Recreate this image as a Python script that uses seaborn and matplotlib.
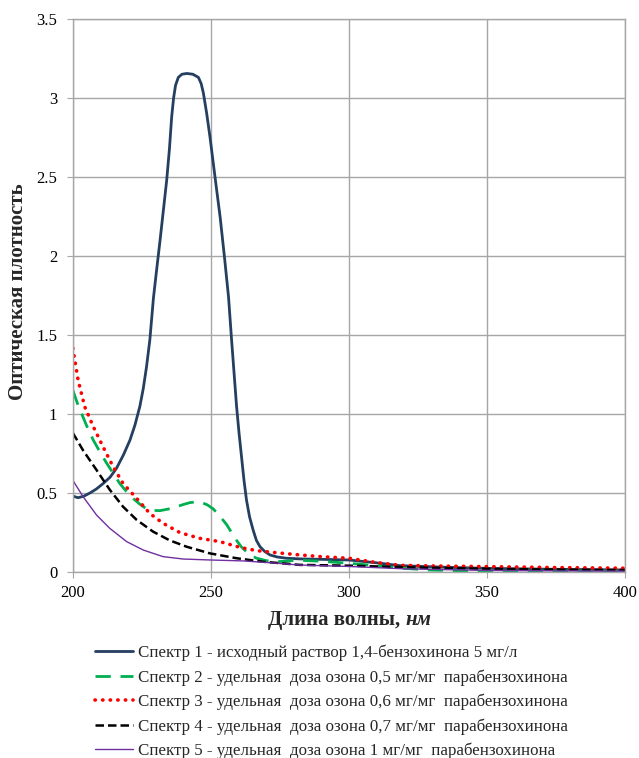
import matplotlib
matplotlib.use('Agg')
import matplotlib.pyplot as plt
import pandas as pd
import seaborn as sns
from matplotlib.ticker import FuncFormatter

# Spectra (wavelength, nm -> optical density)
nm1 = [200, 201.9, 204, 206.2, 208.5, 211, 213.5, 215.8, 218.3, 220.7, 222.5, 224.3, 225.5,
       226.7, 227.9, 229.2, 230.4, 231.6, 232.8, 234, 235, 235.8, 236.5, 237.2, 238.2,
       239.5, 241.3, 243.5, 245.5, 246.5, 247.3, 248.5, 249.7, 251.5, 253.4, 255, 256.4,
       257.5, 258.4, 259.3, 260.2, 261.1, 262, 262.9, 264, 265.3, 266.5, 267.8, 269.5,
       271.4, 274, 277.4, 282, 290, 300, 310, 318.5, 335, 350, 375, 400]
od1 = [0.48, 0.47, 0.48, 0.50, 0.525, 0.56, 0.60, 0.656, 0.74, 0.835, 0.93, 1.05, 1.16,
       1.30, 1.47, 1.735, 1.92, 2.10, 2.29, 2.48, 2.68, 2.88, 3.0, 3.08, 3.13,
       3.15, 3.155, 3.15, 3.13, 3.09, 3.03, 2.90, 2.75, 2.50, 2.24, 1.98, 1.74,
       1.47, 1.26, 1.05, 0.88, 0.73, 0.58, 0.456, 0.35, 0.266, 0.20, 0.16, 0.13,
       0.108, 0.095, 0.087, 0.083, 0.08, 0.076, 0.058, 0.04, 0.03, 0.023, 0.017, 0.013]

nm2 = [200, 201.8, 203.7, 205.5, 207.4, 209.8, 212.2, 214.6, 217, 219.4, 221.8, 224.2,
       226.7, 229, 231.5, 234.5, 237.6, 240, 242.4, 244.5, 246.6, 248.7, 250.8, 253.2,
       255.7, 257.5, 259.3, 261, 262.9, 264.7, 266.6, 270, 273.8, 277, 281, 290, 300,
       310, 318, 330, 350, 375, 400]
od2 = [1.15, 1.06, 0.98, 0.905, 0.835, 0.76, 0.69, 0.625, 0.56, 0.51, 0.466, 0.43,
       0.40, 0.39, 0.388, 0.398, 0.413, 0.427, 0.439, 0.443, 0.44, 0.425, 0.40, 0.355,
       0.30, 0.25, 0.20, 0.16, 0.128, 0.103, 0.087, 0.072, 0.065, 0.068, 0.075, 0.068, 0.055,
       0.04, 0.025, 0.012, 0.005, 0.005, 0.005]

nm3 = [200, 201.9, 204.3, 207.4, 211, 214.6, 218.2, 223.1, 227.9, 232.7, 238.8, 246,
       253.3, 260.5, 266.6, 273.8, 282.2, 290, 300, 310, 318.5, 335, 350, 375, 400]
od3 = [1.416, 1.215, 1.046, 0.92, 0.79, 0.666, 0.56, 0.466, 0.37, 0.308, 0.249, 0.213,
       0.192, 0.156, 0.135, 0.122, 0.108, 0.097, 0.087, 0.06, 0.042, 0.037, 0.034, 0.028, 0.024]

nm4 = [200, 203.7, 208.6, 213.4, 218.2, 223.1, 229.1, 235.1, 241.2, 249.6, 259.3, 268.9,
       282.2, 300, 325, 350, 375, 400]
od4 = [0.88, 0.77, 0.645, 0.52, 0.413, 0.33, 0.255, 0.20, 0.16, 0.118, 0.087, 0.065,
       0.045, 0.04, 0.028, 0.02, 0.015, 0.012]

nm5 = [200, 203.7, 208.6, 213.4, 219.5, 225.5, 232.7, 240, 249.6, 261.7, 272, 282.2,
       300, 320, 350, 375, 400]
od5 = [0.58, 0.477, 0.36, 0.276, 0.192, 0.139, 0.097, 0.082, 0.076, 0.07, 0.058, 0.044,
       0.035, 0.02, 0.01, 0.007, 0.005]

labels = [
    'Спектр 1 - исходный раствор 1,4-бензохинона 5 мг/л',
    'Спектр 2 - удельная  доза озона 0,5 мг/мг  парабензохинона',
    'Спектр 3 - удельная  доза озона 0,6 мг/мг  парабензохинона',
    'Спектр 4 - удельная  доза озона 0,7 мг/мг  парабензохинона',
    'Спектр 5 - удельная  доза озона 1 мг/мг  парабензохинона',
]

sns.set_style('whitegrid')
plt.rcParams['font.family'] = ['Liberation Serif', 'DejaVu Serif']

fig = plt.figure(figsize=(6.39, 7.58), dpi=100)
ax = fig.add_axes([0.114, 0.2454, 0.864, 0.7296])

styles = [
    dict(color='#243F60', lw=2.0, ls='-', cap='butt'),
    dict(color='#00B050', lw=2.0, ls=(0, (5.5, 3.5)), cap='butt'),
    dict(color='#FF0000', lw=2.6, ls=(0, (0.1, 2.0)), cap='round'),
    dict(color='#000000', lw=1.8, ls=(0, (3.4, 1.6)), cap='butt'),
    dict(color='#7030A0', lw=1.0, ls='-', cap='butt'),
]
series = [(nm1, od1), (nm2, od2), (nm3, od3), (nm4, od4), (nm5, od5)]

for (x, y), lab, st in zip(series, labels, styles):
    df = pd.DataFrame({'nm': x, 'od': y})
    sns.lineplot(data=df, x='nm', y='od', ax=ax, label=lab,
                 color=st['color'], lw=st['lw'])
    l = ax.get_lines()[-1]
    l.set_linestyle(st['ls'])
    l.set_dash_capstyle(st['cap'])
    l.set_solid_joinstyle('round')

ax.set_xlim(200, 400)
ax.set_ylim(0, 3.5)
ax.set_xticks([200, 250, 300, 350, 400])
ax.set_yticks([0, 0.5, 1, 1.5, 2, 2.5, 3, 3.5])
ax.yaxis.set_major_formatter(FuncFormatter(lambda v, p: f'{v:g}'))
ax.grid(True, color='#A6A6A6', lw=1.0)
for s in ax.spines.values():
    s.set_color('#A6A6A6')
    s.set_linewidth(1.0)
ax.tick_params(axis='both', labelsize=12, colors='#000000', length=4.3,
               color='#A6A6A6', direction='out', left=True, bottom=True)
ax.tick_params(axis='y', pad=7)
ax.tick_params(axis='x', pad=5)
ax.set_xlabel('')
ax.set_ylabel('')

fig.text(18 / 639, 1 - 291.5 / 758, 'Оптическая плотность', rotation=90,
         ha='center', va='center', fontsize=15, fontweight='bold')
fig.text(405 / 639, 1 - 620 / 758, 'Длина волны, ', ha='right', va='center',
         fontsize=15, fontweight='bold')
fig.text(405 / 639, 1 - 620 / 758, 'нм', ha='left', va='center',
         fontsize=15, fontweight='bold', fontstyle='italic')

handles, labs = ax.get_legend_handles_labels()
ax.get_legend().remove()
fig.legend(handles, labs, loc='upper left', bbox_to_anchor=(88 / 639, 1 - 638 / 758),
           frameon=False, fontsize=12.2, handlelength=2.24, handletextpad=0.3,
           labelspacing=0.47, borderaxespad=0)

fig.savefig('out.png', dpi=100)
